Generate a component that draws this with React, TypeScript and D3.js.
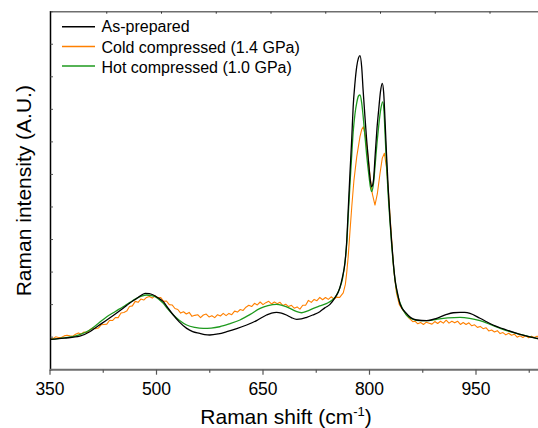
import React from "react";
import * as d3 from "d3";

// [Raman shift (cm-1), intensity (a.u.)]
const asPrepared: [number, number][] = [
  [350, 0.93], [370, 0.97], [392, 1.03], [406, 1.167], [418, 1.35], [430, 1.527], [442, 1.71],
  [453, 1.886], [462, 2.04], [472, 2.19], [478, 2.28], [484, 2.347], [490, 2.34], [495.5, 2.295],
  [502, 2.21], [509.6, 2.09], [516, 1.9], [523.7, 1.68], [532, 1.47], [542.5, 1.27], [551, 1.17],
  [561, 1.118], [568, 1.08], [575, 1.066], [587, 1.1], [599, 1.167], [613, 1.26], [627, 1.373],
  [641, 1.51], [655, 1.68], [662, 1.74], [669, 1.763], [676, 1.74], [683, 1.68], [690, 1.6],
  [697.5, 1.548], [704, 1.56], [711.6, 1.61], [720, 1.68], [730, 1.78], [737, 1.9], [744, 2.0],
  [751, 2.2], [758, 2.5], [762, 2.85], [765.5, 3.3], [768, 3.98], [770, 4.9], [772.5, 6.04],
  [775, 7.1], [777, 8.08], [779.5, 8.8], [782, 9.31], [784.5, 9.58], [786.6, 9.65], [789, 9.3],
  [791, 8.59], [793.5, 7.8], [796, 7.06], [799, 6.3], [801, 5.85], [803, 5.62], [805.5, 5.8],
  [808, 6.6], [810.5, 7.4], [813, 8.0], [815.5, 8.55], [818, 8.8], [820, 8.5], [822, 7.6],
  [824, 6.6], [826.5, 5.52], [829, 4.6], [831, 3.98], [833.5, 3.3], [836, 2.76], [839, 2.4],
  [843, 2.02], [852, 1.73], [858, 1.6], [866.5, 1.527], [880.5, 1.505], [894.6, 1.58],
  [908.7, 1.7], [918, 1.75], [927.5, 1.763], [934, 1.76], [941.5, 1.73], [955.6, 1.58],
  [974, 1.373], [993, 1.22], [1012, 1.087], [1035.5, 0.965], [1050, 0.92],
];

const coldCompressed: [number, number][] = [
  [350, 0.96], [354, 0.95], [358, 1.01], [362, 0.99], [366, 0.99], [370, 1.04], [374, 1.06],
  [378, 1.04], [382, 1.03], [386, 1.09], [390, 1.13], [394, 1.1], [398, 1.16], [402, 1.14],
  [406, 1.22], [410, 1.28], [414, 1.26], [418, 1.28], [422, 1.38], [426, 1.39], [430, 1.4],
  [434, 1.52], [438, 1.51], [442, 1.6], [446, 1.6], [450, 1.74], [454, 1.76], [458, 1.8],
  [462, 1.94], [466, 1.96], [470, 2.1], [474, 2.07], [478, 2.17], [482, 2.14], [486, 2.22],
  [490, 2.25], [494, 2.2], [498, 2.27], [502, 2.21], [506, 2.22], [510, 2.1], [514, 2.11],
  [518, 2.0], [522, 1.99], [526, 1.88], [530, 1.85], [534, 1.74], [538, 1.78], [542, 1.71],
  [546, 1.76], [550, 1.64], [554, 1.67], [558, 1.69], [562, 1.6], [566, 1.68], [570, 1.71],
  [574, 1.62], [578, 1.66], [582, 1.6], [586, 1.69], [590, 1.65], [594, 1.73], [598, 1.66],
  [602, 1.73], [606, 1.69], [610, 1.8], [614, 1.77], [618, 1.85], [622, 1.82], [626, 1.92],
  [630, 1.98], [634, 1.94], [638, 2.04], [642, 1.99], [646, 2.08], [650, 2.0], [654, 2.06],
  [658, 2.1], [662, 2.02], [666, 2.08], [670, 2.03], [674, 2.07], [678, 1.97], [682, 2.01],
  [686, 1.94], [690, 1.98], [694, 1.89], [698, 1.93], [702, 1.86], [706, 1.98], [710, 1.98],
  [714, 2.13], [718, 2.07], [722, 2.16], [726, 2.12], [730, 2.22], [734, 2.15], [738, 2.22],
  [742, 2.16], [746, 2.24], [750, 2.17], [754, 2.23], [758, 2.22], [763, 2.36],
  [766, 2.62], [768, 3.0], [770, 3.47], [772.5, 4.25], [775, 5.0], [778, 5.8], [782, 6.54],
  [786.6, 7.16], [789, 7.38], [791.3, 7.465], [794, 7.2], [798, 6.54], [801, 5.9], [804, 5.4],
  [807.7, 5.06], [811, 5.4], [814.8, 6.03], [818, 6.5], [821, 6.65], [824, 6.2], [826.5, 5.52],
  [829, 4.7], [831.3, 3.985], [834, 3.1], [838, 2.35], [842, 2.0], [847, 1.834], [852, 1.68],
  [856, 1.58], [861, 1.475], [864, 1.49], [868, 1.41], [872, 1.45], [876, 1.39], [880, 1.46],
  [884, 1.43], [888, 1.4], [892, 1.48], [896, 1.42], [900, 1.49], [904, 1.43], [908, 1.52],
  [912, 1.43], [916, 1.49], [920, 1.44], [924, 1.49], [928, 1.39], [932, 1.45], [936, 1.39],
  [940, 1.44], [944, 1.35], [948, 1.38], [952, 1.3], [956, 1.33], [960, 1.26], [964, 1.29],
  [968, 1.19], [972, 1.22], [976, 1.16], [980, 1.2], [984, 1.11], [988, 1.14], [992, 1.07],
  [996, 1.12], [1000, 1.06], [1004, 1.09], [1008, 1.0], [1012, 1.04], [1016, 0.99],
  [1020, 1.05], [1024, 0.98], [1028, 1.03], [1032, 0.99], [1036, 1.03], [1040, 0.96],
  [1044, 0.99], [1048, 0.95],
];

const hotCompressed: [number, number][] = [
  [350, 0.93], [370, 0.98], [390, 1.06], [406, 1.22], [418, 1.42], [430, 1.628], [442, 1.79],
  [453, 1.935], [462, 2.06], [472, 2.19], [479, 2.26], [486, 2.295], [492, 2.28], [498, 2.243],
  [504, 2.15], [509.6, 2.04], [516, 1.86], [523.7, 1.68], [532, 1.52], [542.5, 1.373],
  [554, 1.3], [566, 1.27], [577, 1.28], [589, 1.32], [603, 1.41], [617.6, 1.527], [632, 1.7],
  [646, 1.886], [657, 1.97], [669, 2.01], [678, 1.97], [688, 1.886], [696, 1.8], [704.5, 1.75],
  [712, 1.8], [721, 1.886], [730, 1.96], [740, 2.04], [748, 2.15], [754, 2.3], [758, 2.5],
  [762, 2.8], [765.5, 3.3], [768, 3.9], [770, 4.7], [772.5, 5.7], [775, 6.6], [777, 7.3],
  [779.5, 7.85], [782, 8.2], [784.5, 8.41], [786.6, 8.44], [789, 8.2], [791, 7.8], [793.5, 7.2],
  [796, 6.6], [799, 6.0], [801, 5.65], [803, 5.47], [805.5, 5.7], [808, 6.3], [810.5, 6.95],
  [813, 7.5], [815.5, 7.95], [818.5, 8.23], [820.5, 7.9], [822, 7.2], [824, 6.3], [826.5, 5.3],
  [829, 4.5], [831, 3.9], [833.5, 3.25], [836, 2.75], [839, 2.35], [843, 2.05], [852, 1.68],
  [860, 1.56], [871, 1.505], [883, 1.51], [894.6, 1.548], [910, 1.59], [927.5, 1.61],
  [941, 1.58], [955.6, 1.505], [970, 1.39], [984, 1.27], [998, 1.17], [1012, 1.087],
  [1035, 0.965], [1050, 0.92],
];

const seriesNames = ["As-prepared", "Cold compressed (1.4 GPa)", "Hot compressed (1.0 GPa)"];
const seriesColors = ["#000000", "#ff8000", "#1e9a1e"];
const xTickValues = [350, 500, 650, 800, 950];
const xMinorTickValues = [425, 575, 725, 875, 1025];
const yTickValues = d3.range(0, 12);

export default function App() {
  const W = 538;
  const H = 428;
  const left = 50.5;
  const top = 11.7;
  const bottom = 369.7;

  const x = d3.scaleLinear().domain([350, 1050]).range([50, 547]);
  const xTop = d3.scaleLinear().domain([350, 1050]).range([52, 563]);
  const y = d3.scaleLinear().domain([0, 11]).range([bottom, top]);

  const smooth = d3
    .line<[number, number]>()
    .x((d) => x(d[0]))
    .y((d) => y(d[1]))
    .curve(d3.curveMonotoneX);
  const noisy = d3
    .line<[number, number]>()
    .x((d) => x(d[0]))
    .y((d) => y(d[1]))
    .curve(d3.curveLinear);

  const font = "'Liberation Sans', Arial, Helvetica, sans-serif";
  const topTicks = d3.range(425, 1050, 75);

  return (
    <svg
      width={W}
      height={H}
      style={{ position: "absolute", left: 0, top: 0, background: "#fff" }}
      fontFamily={font}
    >
      <defs>
        <clipPath id="plotClip">
          <rect x={left} y={top} width={W - left} height={bottom - top} />
        </clipPath>
      </defs>
      <rect width={W} height={H} fill="#fff" />

      <g clipPath="url(#plotClip)" fill="none" strokeWidth={1.3} strokeLinejoin="round">
        <path d={noisy(coldCompressed) || ""} stroke={seriesColors[1]} strokeWidth={1.1} />
        <path d={smooth(hotCompressed) || ""} stroke={seriesColors[2]} />
        <path d={smooth(asPrepared) || ""} stroke={seriesColors[0]} />
      </g>

      {/* top frame */}
      <line x1={left} x2={W} y1={top} y2={top} stroke="#6e6e6e" strokeWidth={1.5} />
      {topTicks.map((t) => (
        <line key={"tt" + t} x1={xTop(t)} x2={xTop(t)} y1={top} y2={top + 2} stroke="#333" strokeWidth={1} />
      ))}

      {/* y axis */}
      <line x1={left} x2={left} y1={top - 0.7} y2={bottom + 1} stroke="#000" strokeWidth={1.5} />
      {yTickValues.map((t) => (
        <line key={"yt" + t} x1={left} x2={left + 2.5} y1={y(t)} y2={y(t)} stroke="#555" strokeWidth={1} />
      ))}

      {/* x axis */}
      <line x1={left - 0.7} x2={W} y1={bottom} y2={bottom} stroke="#6e6e6e" strokeWidth={2} />
      {xTickValues.map((t) => (
        <g key={"xt" + t}>
          <line x1={x(t)} x2={x(t)} y1={bottom} y2={bottom + 5} stroke="#555" strokeWidth={1.2} />
          <text x={x(t)} y={395} textAnchor="middle" fontSize={17.5} fill="#000">
            {t}
          </text>
        </g>
      ))}
      {xMinorTickValues.map((t) => (
        <line key={"xm" + t} x1={x(t)} x2={x(t)} y1={bottom} y2={bottom + 3} stroke="#555" strokeWidth={1.2} />
      ))}

      {/* axis titles */}
      <text x={286} y={424} textAnchor="middle" fontSize={21} fill="#000">
        Raman shift (cm
        <tspan dy={-8} fontSize={13}>-1</tspan>
        <tspan dy={8}>)</tspan>
      </text>
      <text
        transform={`translate(31,${(top + bottom) / 2}) rotate(-90)`}
        textAnchor="middle"
        fontSize={21}
        fill="#000"
      >
        Raman intensity (A.U.)
      </text>

      {/* legend */}
      {seriesNames.map((name, i) => (
        <g key={name}>
          <line x1={62} x2={95} y1={26.7 + i * 19.7} y2={26.7 + i * 19.7} stroke={seriesColors[i]} strokeWidth={1.5} />
          <text x={101.5} y={32 + i * 20.7} fontSize={16} fill="#000">
            {name}
          </text>
        </g>
      ))}
    </svg>
  );
}
